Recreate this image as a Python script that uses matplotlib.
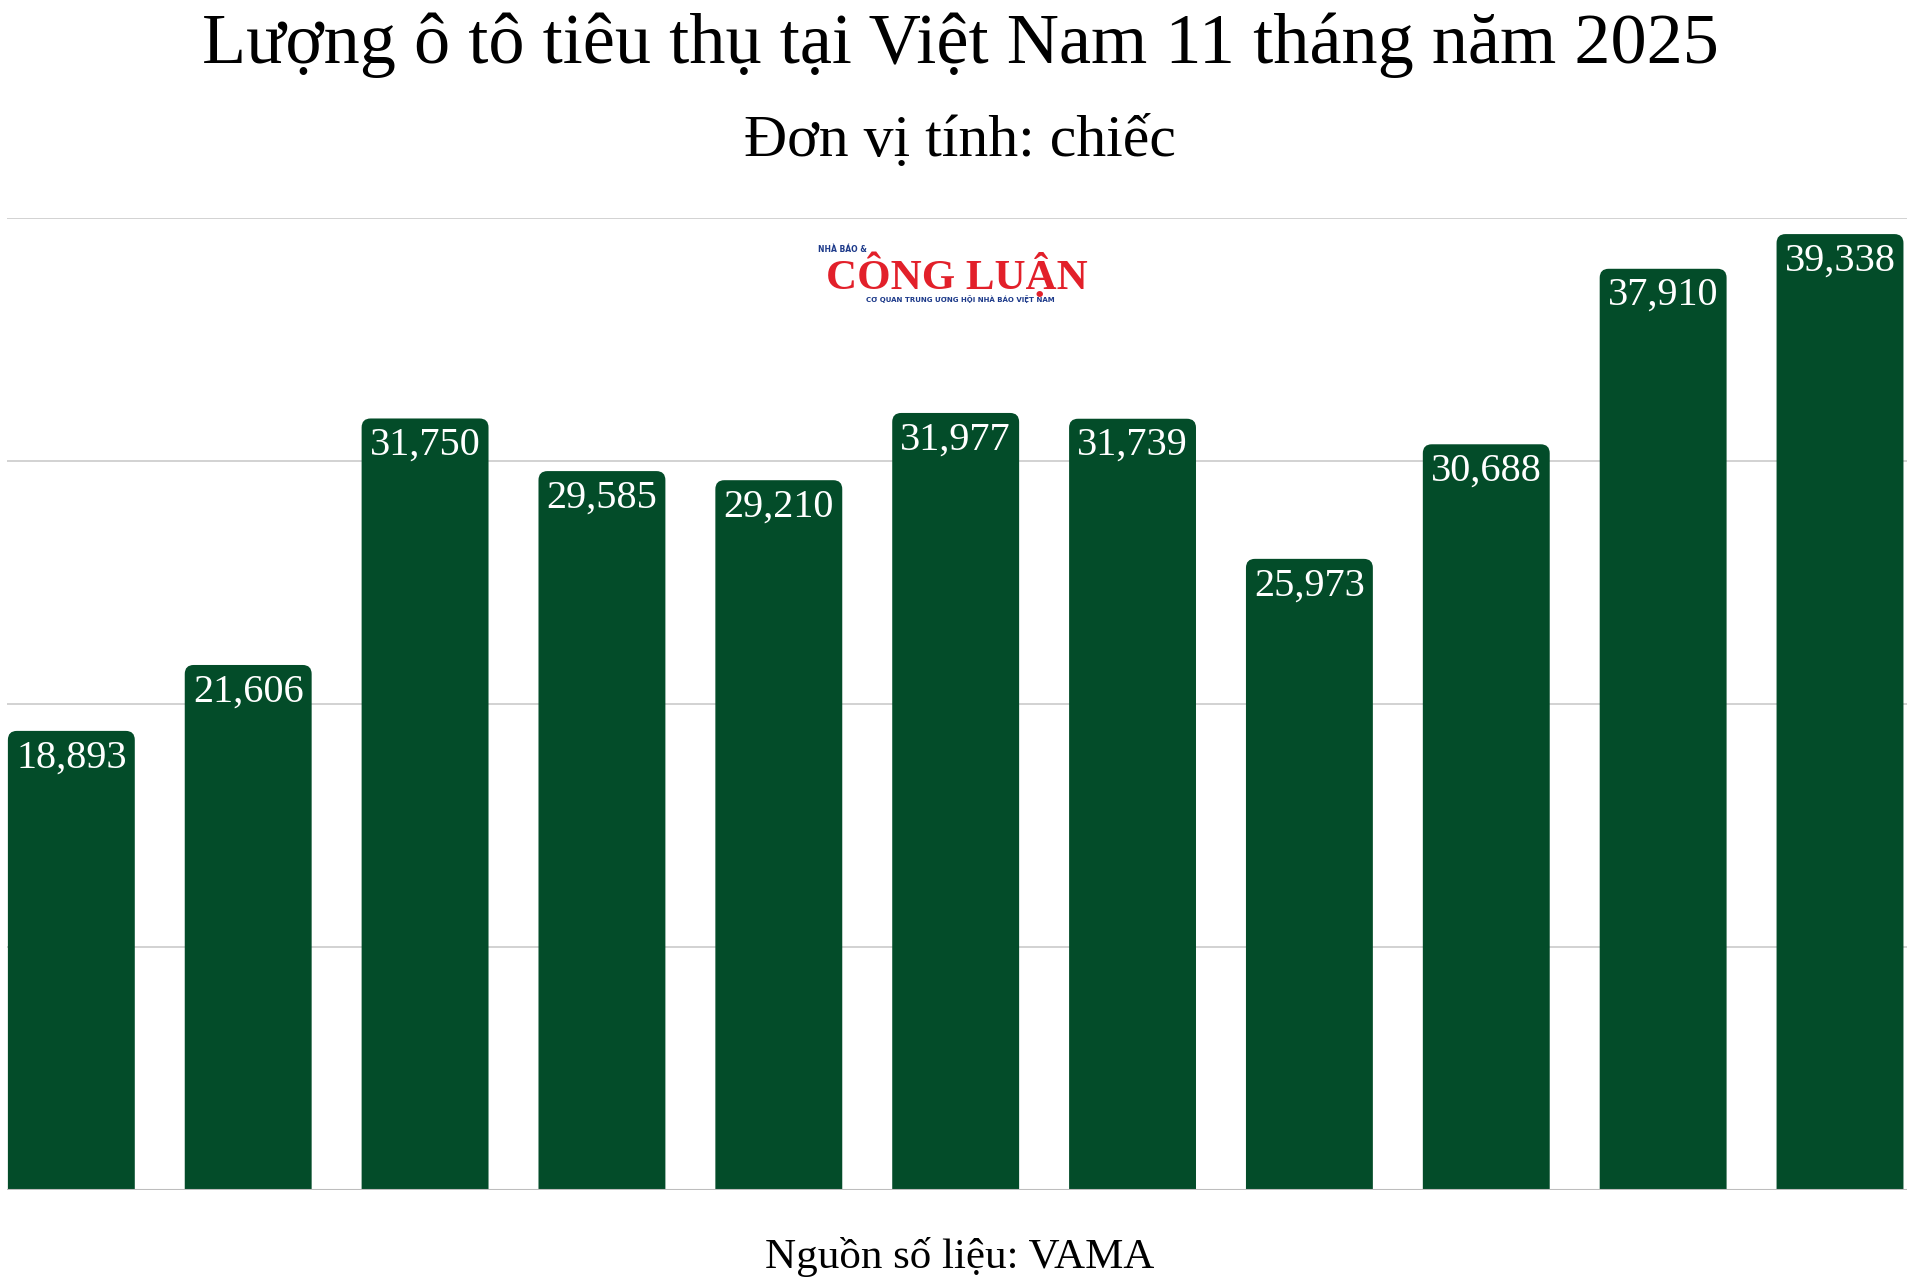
import numpy as np
import matplotlib.pyplot as plt
from matplotlib.patches import FancyBboxPatch

months = ['T1', 'T2', 'T3', 'T4', 'T5', 'T6', 'T7', 'T8', 'T9', 'T10', 'T11']
sales = [18893, 21606, 31750, 29585, 29210, 31977, 31739, 25973, 30688, 37910, 39338]

title = 'Lượng ô tô tiêu thụ tại Việt Nam 11 tháng năm 2025'
subtitle = 'Đơn vị tính: chiếc'
source = 'Nguồn số liệu: VAMA'

bar_color = '#034c29'
serif = ['Liberation Serif', 'DejaVu Serif']

plt.rcParams['font.family'] = serif

fig = plt.figure(figsize=(19.2, 12.8), dpi=100)
ax = fig.add_axes([7 / 1920, 90 / 1280, 1900 / 1920, 972 / 1280])

x = np.arange(len(months))
width = 127 / 177
bars = ax.bar(x, sales, width, color=bar_color, zorder=2)

# swap plain bars for ones with rounded top corners
ypp = 40000 / 972
xpp = 1 / 177
r = 9 * xpp
for rect in bars:
    x0, w, h = rect.get_x(), rect.get_width(), rect.get_height()
    rect.remove()
    ax.add_patch(FancyBboxPatch((x0, -2000), w, h + 2000,
                                boxstyle='round,pad=0,rounding_size=%f' % r,
                                mutation_aspect=ypp / xpp,
                                fc=bar_color, ec='none', zorder=2))

for xi, v in zip(x, sales):
    ax.annotate('{:,}'.format(v), (xi, v), xytext=(0, -6), textcoords='offset points',
                ha='center', va='top', color='white', fontsize=29)

ax.set_xlim(-0.5 * width - 0.005, len(months) - 1 + 0.5 * width + 0.02)
ax.set_ylim(0, 40000)
ax.set_yticks([0, 10000, 20000, 30000, 40000])
ax.yaxis.grid(True, color='#cfcfcf', lw=1.3, zorder=0)
ax.set_xticks([])
ax.tick_params(left=False, labelleft=False)
for s in ax.spines.values():
    s.set_visible(False)
ax.axhline(0, color='#bdbdbd', lw=1.5, zorder=3)

fig.text(0.5, 1 - 45 / 1280, title, ha='center', va='center', fontsize=52)
fig.text(0.5, 1 - 142 / 1280, subtitle, ha='center', va='center', fontsize=43)
fig.text(0.5, 1 - 1257 / 1280, source, ha='center', va='center', fontsize=31)

# logo of the newspaper
fig.text(957 / 1920, 1 - 275 / 1280, 'CÔNG LUẬN', ha='center', va='center',
         fontsize=31, fontweight='bold', color='#e2202a')
fig.text(818 / 1920, 1 - 250 / 1280, 'NHÀ BÁO &', ha='left', va='center',
         fontsize=5.5, fontweight='bold', color='#1d3a8a', family=['DejaVu Sans'])
fig.text(960 / 1920, 1 - 299 / 1280, 'CƠ QUAN TRUNG ƯƠNG HỘI NHÀ BÁO VIỆT NAM', ha='center',
         va='center', fontsize=5, fontweight='bold', color='#1d3a8a', family=['DejaVu Sans'])

fig.savefig('out.png', dpi=100)
